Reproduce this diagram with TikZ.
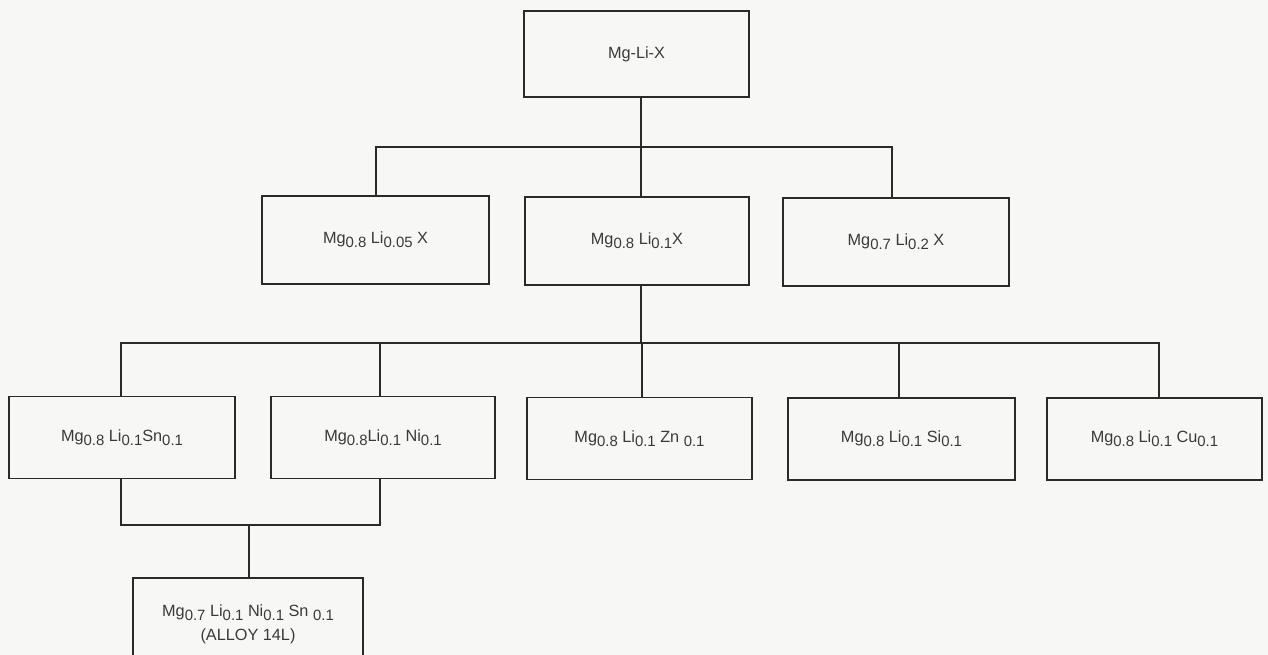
\documentclass[tikz,border=0pt]{standalone}
\usepackage{fontspec}
\setmainfont{Liberation Sans}
\usetikzlibrary{calc}
\definecolor{ink}{HTML}{2A2A2A}
\definecolor{txt}{HTML}{3A3A3A}
\definecolor{paper}{HTML}{F7F7F5}
\newcommand{\subx}[1]{\raisebox{-2.8pt}{\fontsize{11.2}{12}\selectfont #1}}
\begin{document}
\begin{tikzpicture}[x=0.75pt,y=-0.75pt,
  box/.style={draw=ink, line width=0.9pt, rectangle, inner sep=0pt, text=txt,
    font=\fontsize{12.2}{14}\selectfont, align=center},
  lbl/.style={text=txt, font=\fontsize{12.2}{14}\selectfont, align=center, inner sep=0pt, anchor=base},
  link/.style={draw=ink, line width=1.5pt}]
\clip (0,0) rectangle (1268,655);
\fill[paper] (0,0) rectangle (1268,655);
% level 1
\node[box, minimum width=168.75pt, minimum height=64.5pt] (top) at (636.5,54) {Mg-Li-X};
% level 2
\node[box, minimum width=170.25pt, minimum height=66pt] (A) at (375.5,240) {Mg\subx{0.8} Li\subx{0.05} X};
\node[box, minimum width=168pt, minimum height=66pt] (B) at (637,241) {Mg\subx{0.8} Li\subx{0.1}X};
\node[box, minimum width=169.5pt, minimum height=66pt] (C) at (896,242) {Mg\subx{0.7} Li\subx{0.2} X};
% level 3
\node[box, minimum width=169.5pt, minimum height=61.5pt] (D) at (122,437.5) {Mg\subx{0.8} Li\subx{0.1}Sn\subx{0.1}};
\node[box, minimum width=168pt, minimum height=61.5pt] (E) at (383,437.5) {Mg\subx{0.8}Li\subx{0.1} Ni\subx{0.1}};
\node[box, minimum width=168.75pt, minimum height=61.5pt] (F) at (639.5,438.5) {Mg\subx{0.8} Li\subx{0.1} Zn \subx{0.1}};
\node[box, minimum width=170.25pt, minimum height=61.5pt] (G) at (901.5,439) {Mg\subx{0.8} Li\subx{0.1} Si\subx{0.1}};
\node[box, minimum width=161.25pt, minimum height=61.5pt] (H) at (1154.5,439) {Mg\subx{0.8} Li\subx{0.1} Cu\subx{0.1}};
% level 4
\node[box, line width=1.5pt, minimum width=172.5pt, minimum height=76.5pt] (I) at (248,629) {};
\node[lbl] (Ia) at (248,617) {Mg\subx{0.7} Li\subx{0.1} Ni\subx{0.1} Sn \subx{0.1}};
\node[lbl] (Ib) at (248,641) {(ALLOY 14L)};
% junctions
\coordinate (j0) at (641,147);
\coordinate (j1) at (641,343);
\coordinate (j2) at (249,525);
% connectors
\draw[link] (j0 |- top.south) -- (j0);
\draw[link] ($(A.north)+(0.5,0)$) |- (j0) -| ($(C.north)+(-4,0)$);
\draw[link] (j0) -- (j0 |- B.north);
\draw[link] (j1 |- B.south) -- (j1);
\draw[link] ($(D.north)+(-1,0)$) |- (j1) -| ($(H.north)+(4.5,0)$);
\draw[link] ($(E.north)+(-3,0)$) |- (j1);
\draw[link] ($(F.north)+(2.5,0)$) |- (j1);
\draw[link] ($(G.north)+(-2.5,0)$) |- (j1);
\draw[link] ($(D.south)+(-1,0)$) |- (j2) -| ($(E.south)+(-3,0)$);
\draw[link] (j2) -- (j2 |- I.north);
\end{tikzpicture}
\end{document}
